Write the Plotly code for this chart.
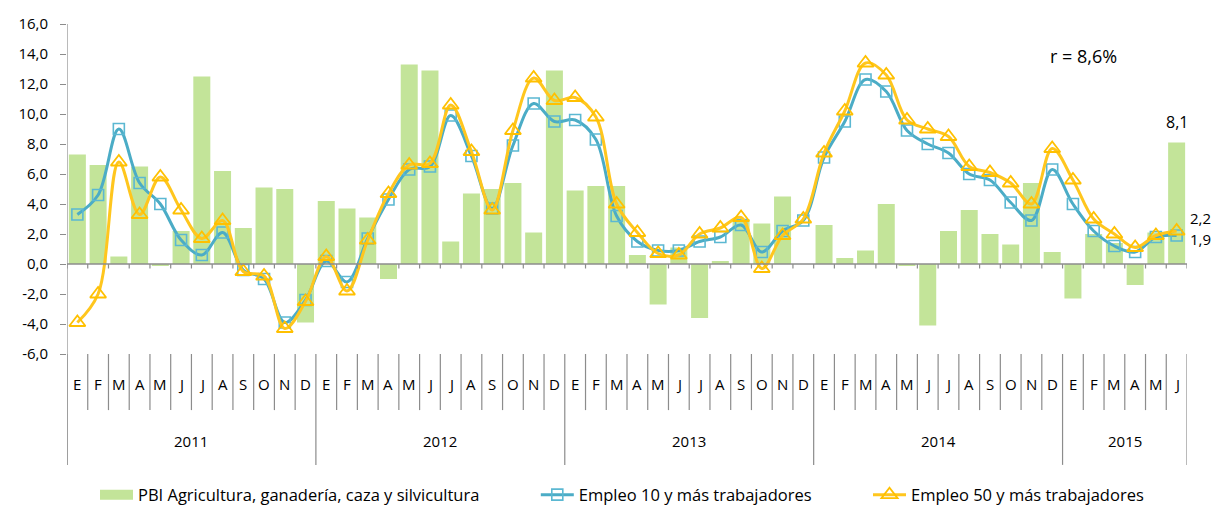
import plotly.graph_objects as go

# ---------------- data ----------------
months = ["E", "F", "M", "A", "M", "J", "J", "A", "S", "O", "N", "D"] * 4 + ["E", "F", "M", "A", "M", "J"]
years = ["2011", "2012", "2013", "2014", "2015"]
months_per_year = [12, 12, 12, 12, 6]

pbi_agro = [7.3, 6.6, 0.5, 6.5, -0.1, 2.2, 12.5, 6.2, 2.4, 5.1, 5.0, -3.9,
            4.2, 3.7, 3.1, -1.0, 13.3, 12.9, 1.5, 4.7, 5.0, 5.4, 2.1, 12.9,
            4.9, 5.2, 5.2, 0.6, -2.7, 1.1, -3.6, 0.2, 3.0, 2.7, 4.5, 0.0,
            2.6, 0.4, 0.9, 4.0, -0.1, -4.1, 2.2, 3.6, 2.0, 1.3, 5.4, 0.8,
            -2.3, 2.0, 1.4, -1.4, 2.1, 8.1]

empleo_10 = [3.3, 4.6, 9.0, 5.4, 4.0, 1.6, 0.6, 2.1, -0.4, -1.0, -3.9, -2.4,
             0.2, -1.2, 1.7, 4.3, 6.3, 6.5, 9.9, 7.2, 3.7, 7.9, 10.7, 9.5,
             9.6, 8.3, 3.2, 1.5, 0.9, 0.9, 1.5, 1.8, 2.6, 0.8, 2.2, 2.9,
             7.1, 9.5, 12.3, 11.5, 8.9, 8.0, 7.4, 6.0, 5.6, 4.1, 2.9, 6.3,
             4.0, 2.2, 1.2, 0.8, 1.8, 1.9]

empleo_50 = [-3.9, -2.0, 6.8, 3.3, 5.8, 3.6, 1.7, 2.9, -0.5, -0.8, -4.3, -2.5,
             0.5, -1.8, 1.6, 4.7, 6.6, 6.7, 10.6, 7.5, 3.6, 8.9, 12.4, 10.9,
             11.1, 9.8, 4.0, 2.1, 0.7, 0.6, 2.0, 2.4, 3.1, -0.3, 1.9, 3.0,
             7.4, 10.2, 13.4, 12.6, 9.6, 9.0, 8.5, 6.5, 6.1, 5.4, 4.0, 7.7,
             5.6, 3.0, 2.0, 1.1, 1.9, 2.2]

ytick_vals = [-6, -4, -2, 0, 2, 4, 6, 8, 10, 12, 14, 16]
ytick_text = ["-6,0", "-4,0", "-2,0", "0,0", "2,0", "4,0", "6,0", "8,0", "10,0", "12,0", "14,0", "16,0"]

names = ["PBI Agricultura, ganadería, caza y silvicultura",
         "Empleo 10 y más trabajadores",
         "Empleo 50 y más trabajadores"]
r_text = "r = 8,6%"

# ---------------- styles ----------------
FONT = "'Open Sans', sans-serif"
GREEN = "#C3E499"
BLUE = "#4BACC6"
YELLOW = "#FFC61E"
AXIS = "#8C8C8C"
PAD = "\u00a0" * 12

n = len(months)
idx = list(range(n))

def fmt(v):
    return f"{v:.1f}".replace(".", ",")

fig = go.Figure()
fig.add_trace(go.Bar(x=idx, y=pbi_agro, name=names[0], showlegend=False,
                     marker=dict(color=GREEN, line=dict(width=0))))
# legend entry for bars (wide box, as in the original)
fig.add_trace(go.Scatter(x=[None], y=[None], name=names[0] + PAD, mode="lines",
                         line=dict(color=GREEN, width=10), hoverinfo="skip"))
fig.add_trace(go.Scatter(
    x=idx, y=empleo_10, name=names[1] + PAD, mode="lines+markers",
    line=dict(color=BLUE, width=3, shape="spline", smoothing=1.0),
    marker=dict(symbol="square-open", size=11, color="#5BB8D2", line=dict(width=1.6, color="#5BB8D2"))))
fig.add_trace(go.Scatter(
    x=idx, y=empleo_50, name=names[2], mode="lines+markers",
    line=dict(color=YELLOW, width=3, shape="spline", smoothing=1.0),
    marker=dict(symbol="triangle-up-open", size=14, color="#FFC000", line=dict(width=1.8, color="#FFC000"))))

shapes = []
shapes.append(dict(type="line", xref="x", yref="y", x0=-0.5, x1=n - 0.5, y0=0, y1=0,
                   line=dict(color=AXIS, width=1.5), layer="above"))
for k in range(n + 1):
    shapes.append(dict(type="line", xref="x", yref="y", x0=k - 0.5, x1=k - 0.5, y0=0, y1=-0.3,
                       line=dict(color=AXIS, width=1.2)))
year_bounds = [0]
for m in months_per_year:
    year_bounds.append(year_bounds[-1] + m)
for k in range(n + 1):
    ybot = -0.336 if k in year_bounds else -0.170
    shapes.append(dict(type="line", xref="x", yref="paper", x0=k - 0.5, x1=k - 0.5, y0=0, y1=ybot,
                       line=dict(color=AXIS, width=1.2)))
shapes.append(dict(type="line", xref="x", yref="paper", x0=-0.5, x1=-0.5, y0=1, y1=-0.336,
                   line=dict(color=AXIS, width=1.2)))

annotations = []
for i, m in enumerate(months):
    annotations.append(dict(x=i, y=-0.091, xref="x", yref="paper", text=m, showarrow=False,
                            font=dict(family=FONT, size=15, color="#000"), yanchor="middle"))
for j, yr in enumerate(years):
    center = (year_bounds[j] + year_bounds[j + 1] - 1) / 2
    annotations.append(dict(x=center, y=-0.264, xref="x", yref="paper", text=yr, showarrow=False,
                            font=dict(family=FONT, size=15, color="#000"), yanchor="middle"))
annotations.append(dict(x=idx[-1], y=pbi_agro[-1], xref="x", yref="y", text=fmt(pbi_agro[-1]),
                        showarrow=False, yanchor="middle", yshift=21,
                        font=dict(family=FONT, size=16, color="#000")))
annotations.append(dict(x=idx[-1], y=empleo_50[-1], xref="x", yref="y", text=fmt(empleo_50[-1]),
                        showarrow=False, xanchor="left", yanchor="middle", xshift=11, yshift=13,
                        font=dict(family=FONT, size=15, color="#000")))
annotations.append(dict(x=idx[-1], y=empleo_10[-1], xref="x", yref="y", text=fmt(empleo_10[-1]),
                        showarrow=False, xanchor="left", yanchor="middle", xshift=11, yshift=-3,
                        font=dict(family=FONT, size=15, color="#000")))
annotations.append(dict(x=0.908, y=0.9045, xref="paper", yref="paper", text=r_text, showarrow=False,
                        xanchor="center", yanchor="middle",
                        font=dict(family=FONT, size=18, color="#000")))

fig.update_layout(
    width=1216, height=505,
    margin=dict(l=67, r=29, t=24, b=151, autoexpand=False),
    paper_bgcolor="white", plot_bgcolor="white",
    bargap=0.18,
    showlegend=True,
    legend=dict(orientation="h", x=0.025, xanchor="left", y=-0.427, yanchor="middle",
                font=dict(family=FONT, size=16.5, color="#000"), itemwidth=33,
                traceorder="normal"),
    font=dict(family=FONT, size=15, color="#000"),
    shapes=shapes,
    annotations=annotations,
)
fig.update_xaxes(range=[-0.5, n - 0.5], showticklabels=False, showline=False, showgrid=False,
                 zeroline=False, ticks="")
fig.update_yaxes(range=[-6, 16], tickvals=ytick_vals, ticktext=ytick_text, showgrid=False,
                 zeroline=False, showline=False, ticks="outside", ticklen=6, tickcolor=AXIS,
                 tickwidth=1.2, ticklabelstandoff=9,
                 tickfont=dict(family=FONT, size=15, color="#000"))

fig.write_html("out.html", config={"displayModeBar": False},
               post_script="document.body.style.margin='0';document.body.style.overflow='hidden';")
